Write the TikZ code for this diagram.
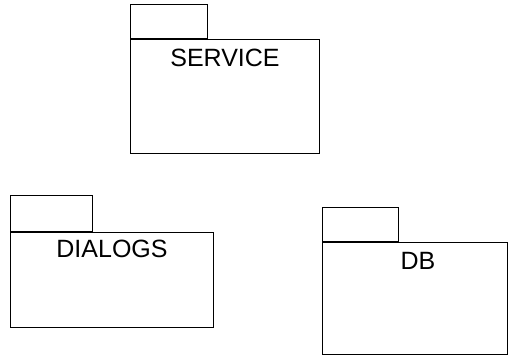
\documentclass[tikz,border=0pt]{standalone}
\usepackage{fontspec}
\setmainfont{Liberation Sans}
\usetikzlibrary{positioning}
\def\tabh{34pt}

\begin{document}
\begin{tikzpicture}[x=1pt, y=-1pt, line width=1pt, draw=black]
    \tikzstyle{pkg}=[draw, rectangle, anchor=north west, inner sep=0pt]
    \tikzstyle{pkgtab}=[draw, rectangle, anchor=south west, inner sep=0pt, minimum height=\tabh]
    \tikzstyle{pkgname}=[font=\fontsize{25}{25}\selectfont, anchor=north, inner sep=0pt]

    \useasboundingbox (0,0) rectangle (509,356);

    % Draw the package bodies
    \foreach \name/\x/\y/\w/\h in {service/130/39/189/114, dialogs/10/232/203/95, db/322/242/185/112}
        \node[pkg, minimum width=\w pt, minimum height=\h pt] (\name) at (\x,\y) {};

    % Draw the tabs on top of each body
    \foreach \name/\w/\h in {service/77/34, dialogs/82/36, db/76/34}
        \node[pkgtab, minimum width=\w pt, minimum height=\h pt] (\name-tab) at (\name.north west) {};

    % Package names
    \node[pkgname, below=10pt of service.north] (service-name) {SERVICE};
    \node[pkgname, below=8pt of dialogs.north] (dialogs-name) {DIALOGS};
    \node[pkgname, below=10pt of db.north, xshift=3pt] (db-name) {DB};

\end{tikzpicture}
\end{document}
